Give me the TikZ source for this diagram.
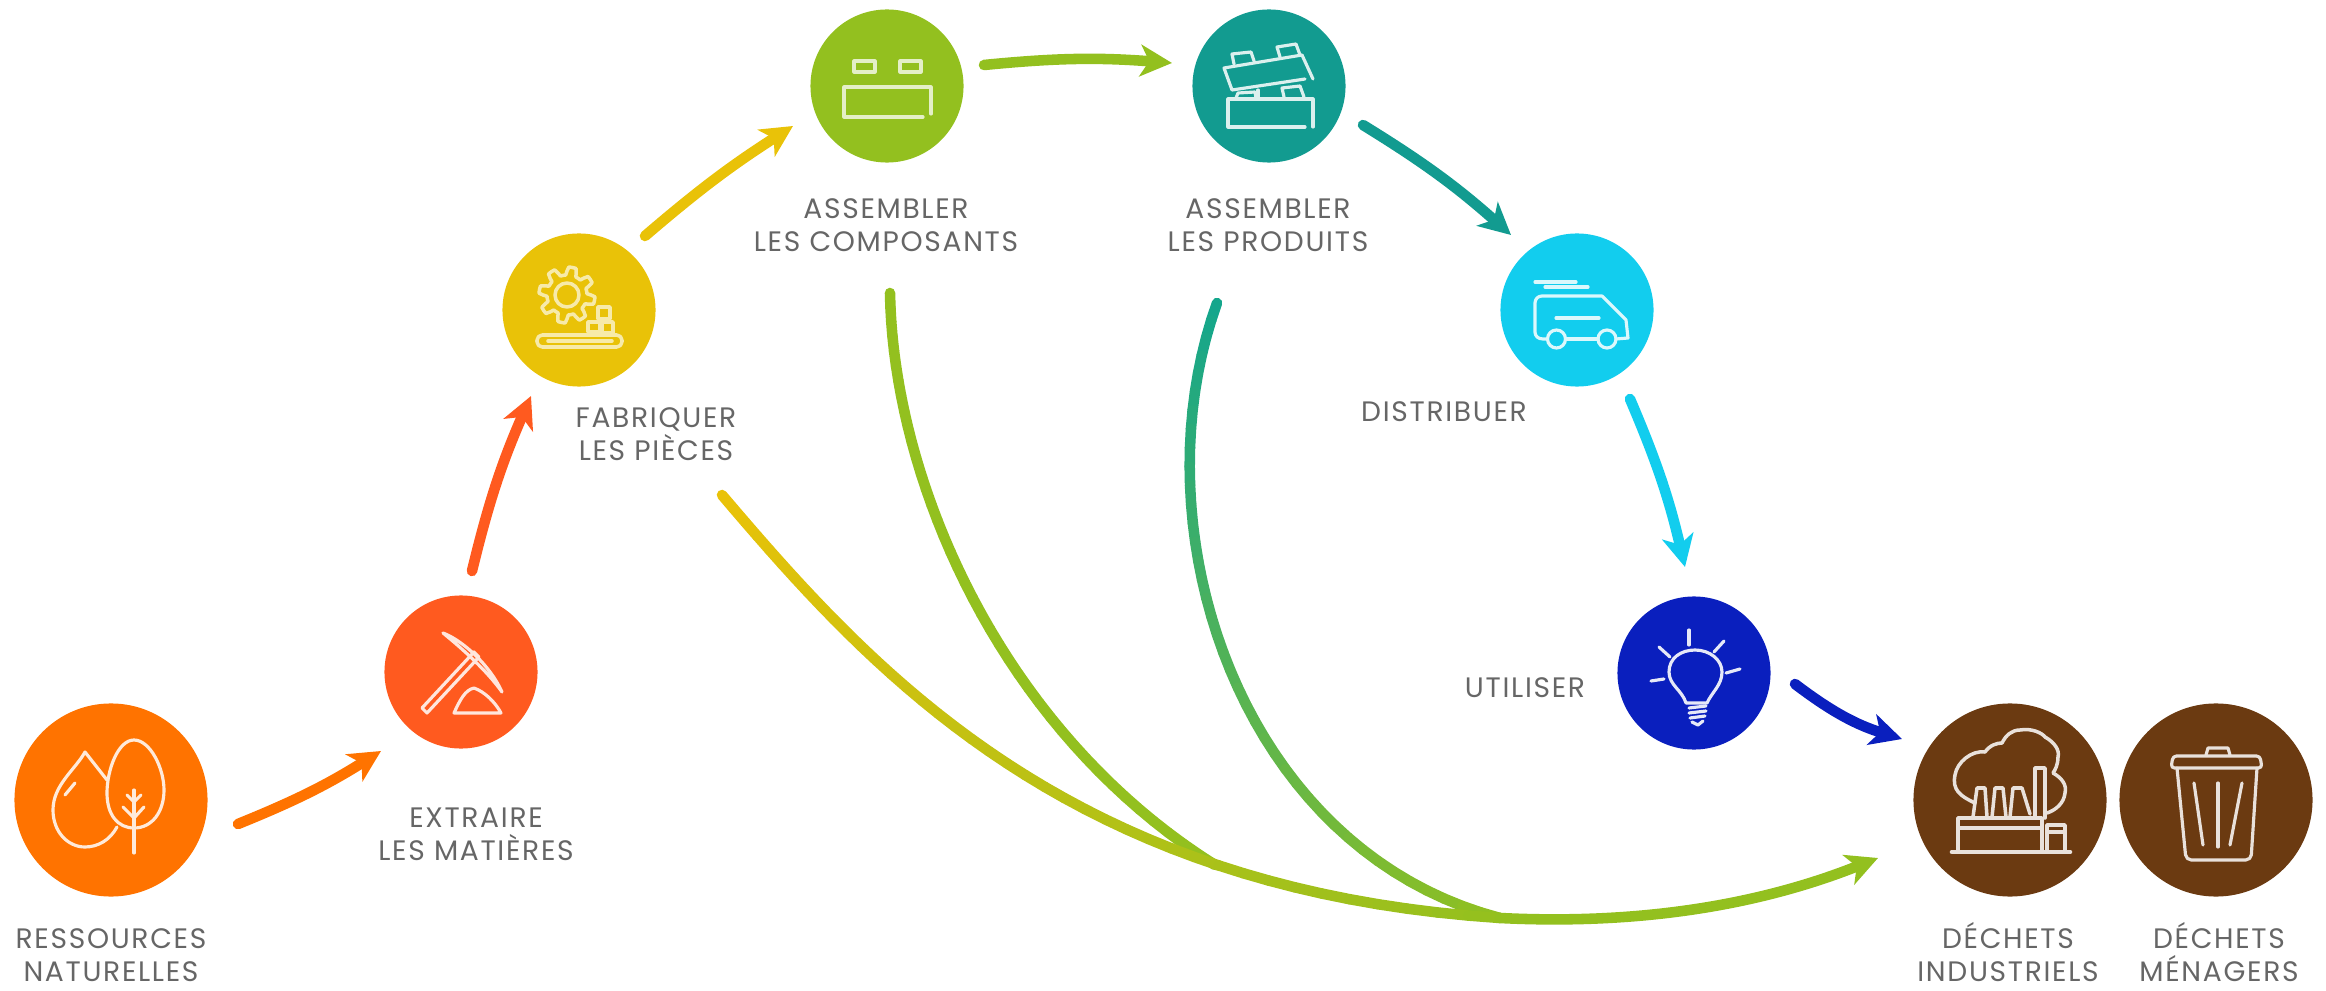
\documentclass[tikz,border=0pt]{standalone}
\usepackage{fontspec}
\setmainfont{Poppins}[LetterSpace=6]
\usetikzlibrary{arrows.meta}
\definecolor{resc}{HTML}{FF7300}
\definecolor{extc}{HTML}{FF5A1F}
\definecolor{fabc}{HTML}{E9C208}
\definecolor{comc}{HTML}{93C01F}
\definecolor{proc}{HTML}{129B90}
\definecolor{prostart}{HTML}{14A68C}
\definecolor{disc}{HTML}{12CDEE}
\definecolor{utic}{HTML}{0A1FBE}
\definecolor{wasc}{HTML}{6B3A11}
\definecolor{labc}{HTML}{666666}
\tikzset{>=latex,
  stage/.style={circle, minimum size=1.93cm, inner sep=0pt},
  stagesmall/.style={stage, minimum size=1.53cm},
  lab/.style={text=labc, align=center, inner sep=0pt, font=\fontsize{8}{9.4}\selectfont},
  flow/.style={line width=3pt, line cap=round, -{Stealth[length=9pt,width=9pt,inset=2.5pt]}},
  icon/.style={line width=0.9pt, line cap=round, line join=round}
}
% long curve, colour changes along it
\newcommand{\gradcurve}[6]{
  \foreach \i [evaluate=\i as \j using int(\i+1), evaluate=\i as \mixval using 2.5*\i] in {0,...,39} {
    \path (#1) .. controls (#2) and (#3) .. (#4) coordinate[pos=\i/40] (gp) coordinate[pos=\j/40] (gq);
    \draw[line width=3pt, line cap=round, #6!\mixval!#5] (gp) -- (gq);
  }
}
\begin{document}
\begin{tikzpicture}[x=0.01cm, y=-0.01cm]
\useasboundingbox (0,0) rectangle (2326,991);

% circles
\node[stage, fill=resc] (res) at (111,800) {};
\node[stagesmall, fill=extc] (ext) at (461,672) {};
\node[stagesmall, fill=fabc] (fab) at (579,310) {};
\node[stagesmall, fill=comc] (com) at (887,86) {};
\node[stagesmall, fill=proc] (pro) at (1269,86) {};
\node[stagesmall, fill=disc] (dis) at (1577,310) {};
\node[stagesmall, fill=utic] (uti) at (1694,673) {};
\node[stage, fill=wasc] (ind) at (2010,800) {};
\node[stage, fill=wasc] (men) at (2216,800) {};

% labels
\node[lab] (resl) at (111,955) {RESSOURCES\\NATURELLES};
\node[lab] (extl) at (476,834) {EXTRAIRE\\LES MATIÈRES};
\node[lab] (fabl) at (656,434) {FABRIQUER\\LES PIÈCES};
\node[lab] (coml) at (886,225) {ASSEMBLER\\LES COMPOSANTS};
\node[lab] (prol) at (1268,225) {ASSEMBLER\\LES PRODUITS};
\node[lab] (disl) at (1444,412) {DISTRIBUER};
\node[lab] (util) at (1525,688) {UTILISER};
\node[lab] (indl) at (2008,952) {DÉCHETS\\INDUSTRIELS};
\node[lab] (menl) at (2219,952) {DÉCHETS\\MÉNAGERS};

% arrow ends
\coordinate (a1) at (238,824);
\coordinate (a2) at (381,751);
\coordinate (b1) at (472,571);
\coordinate (b2) at (531,396);
\coordinate (c1) at (645,236);
\coordinate (c2) at (793,126);
\coordinate (d1) at (984,65);
\coordinate (d2) at (1172,63);
\coordinate (e1) at (1363,125);
\coordinate (e2) at (1511,235);
\coordinate (f1) at (1630,399);
\coordinate (f2) at (1685,567);
\coordinate (g1) at (1795,684);
\coordinate (g2) at (1902,739);

\draw[flow, resc] (a1) to[bend right=5] (a2);
\draw[flow, extc] (b1) to[bend left=5] (b2);
\draw[flow, fabc] (c1) to[bend left=4] (c2);
\draw[flow, comc] (d1) to[bend left=5] (d2);
\draw[flow, proc] (e1) to[bend left=5] (e2);
\draw[flow, disc] (f1) to[bend left=5] (f2);
\draw[flow, utic] (g1) to[bend right=10] (g2);

% waste curves
\coordinate (h1) at (722,495);
\coordinate (h2) at (875,675);
\coordinate (h3) at (1070,890);
\coordinate (h4) at (1500,918);
\coordinate (h5) at (1640,925);
\coordinate (h6) at (1760,905);
\coordinate (h7) at (1878,858);
\coordinate (i1) at (890,293);
\coordinate (i2) at (893,480);
\coordinate (i3) at (1000,730);
\coordinate (i4) at (1215,865);
\coordinate (j1) at (1217,303);
\coordinate (j2) at (1135,530);
\coordinate (j3) at (1240,850);
\coordinate (j4) at (1500,918);
\gradcurve{i1}{i2}{i3}{i4}{comc}{comc}
\gradcurve{j1}{j2}{j3}{j4}{prostart}{comc}
\gradcurve{h1}{h2}{h3}{h4}{fabc}{comc}
\draw[flow, comc] (h4) .. controls (h5) and (h6) .. (h7);

% resources icon
\begin{scope}[icon, draw=resc!15!white]
\draw (107,780) -- (85,752) .. controls (75,770) and (53,785) .. (53,810) .. controls (53,832) and (68,847) .. (85,847) .. controls (98,847) and (110,840) .. (117,827);
\draw (134,740) .. controls (118,740) and (107,770) .. (107,793) .. controls (107,815) and (118,828) .. (134,828) .. controls (152,828) and (164,812) .. (164,790) .. controls (164,768) and (150,740) .. (134,740) -- cycle;
\draw (134,790) -- (134,853);
\draw (123,807) -- (134,818) -- (144,807);
\draw (127,795) -- (134,802) -- (141,795);
\draw (65,795) -- (75,783);
\end{scope}

% pick icon
\begin{scope}[icon, draw=extc!15!white]
\draw (422,708) -- (474,652) -- (479,657) -- (427,713) -- cycle;
\draw (443,633) .. controls (462,640) and (490,665) .. (502,692) .. controls (490,675) and (470,655) .. (443,633) -- cycle;
\draw (454,713) .. controls (460,700) and (465,690) .. (474,688) .. controls (485,692) and (495,702) .. (501,713) -- cycle;
\end{scope}

% gear icon
\begin{scope}[icon, draw=fabc!35!white, line width=1pt]
\draw plot[domain=0:360, samples=97] ({567+(24+4*sign(sin(8*\x)))*cos(\x)},{295+(24+4*sign(sin(8*\x)))*sin(\x)});
\draw (567,295) circle (12);
\draw (598,307) rectangle (610,319);
\draw (588,322) rectangle (600,332);
\draw (602,322) rectangle (613,333);
\draw[rounded corners=1.5pt] (537,335) rectangle (622,347);
\draw (548,341) -- (612,341);
\end{scope}

% component bricks icon
\begin{scope}[icon, draw=comc!25!white]
\draw (854,61) rectangle (875,72);
\draw (900,61) rectangle (921,72);
\draw (923,117) -- (844,117) -- (844,87) -- (931,87) -- (931,114);
\end{scope}

% product bricks icon
\begin{scope}[icon, draw=proc!15!white]
\draw (1313,79) -- (1302,55) -- (1224,68) -- (1232,90) -- (1305,79);
\draw (1234,64) -- (1232,54) -- (1251,52) -- (1254,61);
\draw (1280,57) -- (1277,47) -- (1296,44) -- (1300,55);
\draw (1305,127) -- (1228,127) -- (1228,99) -- (1313,99) -- (1313,127);
\draw (1236,98) -- (1238,93) -- (1255,92) -- (1256,98);
\draw (1284,97) -- (1282,88) -- (1300,86) -- (1304,97);
\draw (1258,90) -- (1258,98);
\end{scope}

% van icon
\begin{scope}[icon, draw=disc!15!white]
\draw (1535,282) -- (1576,282);
\draw (1545,287) -- (1588,287);
\draw (1547,339) -- (1543,339) .. controls (1538,339) and (1535,336) .. (1535,332) -- (1535,303) .. controls (1535,299) and (1538,296) .. (1542,296) -- (1602,296) -- (1626,320) -- (1628,338) -- (1616,339);
\draw (1566,339) -- (1598,339);
\draw (1556,318) -- (1599,318);
\draw (1556.5,339) circle (9);
\draw (1607,339) circle (9);
\end{scope}

% bulb icon
\begin{scope}[icon, draw=utic!10!white]
\draw (1686,703) .. controls (1682,690) and (1669,685) .. (1669,672) .. controls (1669,658) and (1681,650) .. (1695,650) .. controls (1710,650) and (1722,660) .. (1722,672) .. controls (1722,685) and (1712,692) .. (1707,703) -- cycle;
\draw (1689,708) -- (1706,706);
\draw (1689,713) -- (1706,711);
\draw (1690,718) -- (1705,716);
\draw (1692,722) -- (1698,725) -- (1703,721);
\draw (1689,630) -- (1689,645);
\draw (1659,647) -- (1670,657);
\draw (1724,641) -- (1714,652);
\draw (1651,681) -- (1664,679);
\draw (1726,673) -- (1740,669);
\end{scope}

% factory icon
\begin{scope}[icon, draw=wasc!15!white, line width=1pt]
\draw (1975,803) .. controls (1960,796) and (1952,790) .. (1955,775) .. controls (1957,762) and (1972,750) .. (1985,752) .. controls (1990,745) and (1997,743) .. (2002,743) .. controls (2006,735) and (2012,730) .. (2020,730) .. controls (2032,728) and (2042,733) .. (2045,737) .. controls (2054,742) and (2060,750) .. (2058,757) .. controls (2058,765) and (2055,770) .. (2053,773) .. controls (2062,778) and (2067,785) .. (2065,793) .. controls (2064,803) and (2056,810) .. (2047,813);
\draw (2035,818) -- (2035,768) -- (2045,768) -- (2045,818);
\draw (1973,817) -- (1977,788) -- (1985,788) -- (1987,817);
\draw (1992,817) -- (1995,788) -- (2003,788) -- (2006,817);
\draw (2010,817) -- (2013,788) -- (2022,788) -- (2030,814);
\draw (1958,852) -- (1958,818) -- (2042,818) -- (2042,852);
\draw (1958,828) -- (2042,828);
\draw (2047,852) -- (2047,825) -- (2065,825) -- (2065,852);
\draw (2047,832) -- (2065,832);
\draw[line width=1.3pt] (1952,852) -- (2070,852);
\end{scope}

% bin icon
\begin{scope}[icon, draw=wasc!15!white]
\draw (2206,755) -- (2208,748) -- (2228,748) -- (2230,755);
\draw[rounded corners=1pt] (2171,768) -- (2173,756) -- (2260,756) -- (2262,768) -- cycle;
\draw[rounded corners=1.5pt] (2177,768) -- (2186,860) -- (2251,860) -- (2257,768);
\draw (2194,783) -- (2203,845);
\draw (2218,783) -- (2218,847);
\draw (2242,783) -- (2230,845);
\end{scope}

\end{tikzpicture}
\end{document}
